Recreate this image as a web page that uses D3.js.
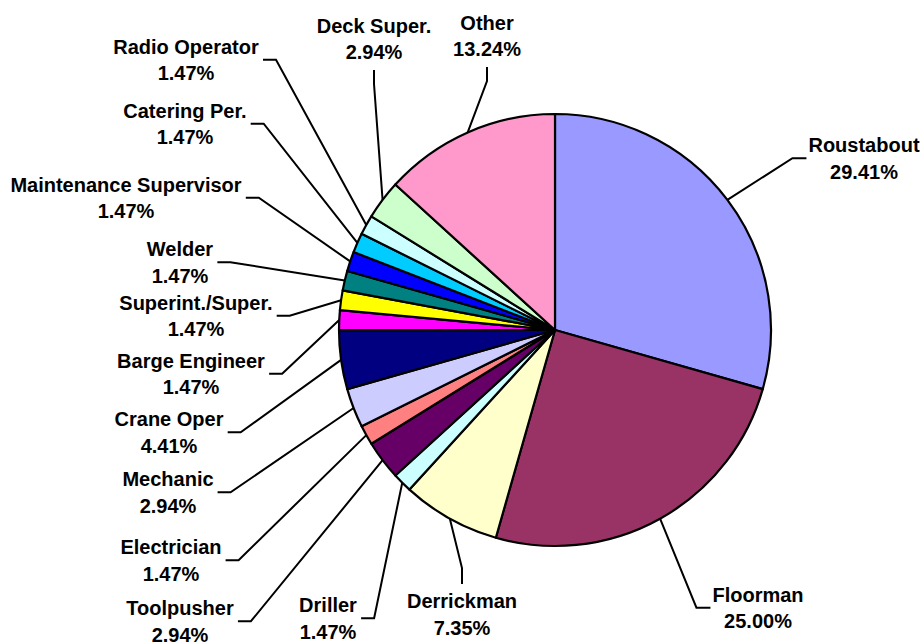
<!DOCTYPE html>
<html lang="en">
<head>
<meta charset="UTF-8">
<script src="https://cdn.jsdelivr.net/npm/d3@7.8.5/dist/d3.min.js"></script>
<title>Job categories pie</title>
<style>
  body { margin: 0; background: #fff; }
  text { font-family: "Liberation Sans", Arial, sans-serif; font-weight: bold; font-size: 20px; fill: #000; }
</style>
</head>
<body>
<svg width="921" height="644"></svg>
<script>
// slice data, clockwise from 12 o'clock
var categories = ["Roustabout", "Floorman", "Derrickman", "Driller", "Toolpusher", "Electrician",
  "Mechanic", "Crane Oper", "Barge Engineer", "Superint./Super.", "Welder",
  "Maintenance Supervisor", "Catering Per.", "Radio Operator", "Deck Super.", "Other"];
var shares = [29.41, 25.00, 7.35, 1.47, 2.94, 1.47, 2.94, 4.41, 1.47, 1.47, 1.47, 1.47, 1.47, 1.47, 2.94, 13.24];
var colors = ["#9999FF", "#993366", "#FFFFCC", "#CCFFFF", "#660066", "#FF8080", "#CCCCFF", "#000080",
  "#FF00FF", "#FFFF00", "#008080", "#0000FF", "#00CCFF", "#CCFFFF", "#CCFFCC", "#FF99CC"];

// label placement: [centre x, first line y (cap middle), side of the leader]
var labelPos = [
  [864, 145, "right"], [758, 594.5, "right"], [462, 601, "bottom"], [328, 605, "left"],
  [180, 608, "left"], [171, 547, "left"], [168, 479, "left"], [169, 419, "left"],
  [191, 360.5, "left"], [196, 302.5, "left"], [180, 249, "left"], [126, 184.5, "left"],
  [185, 110.5, "left"], [186, 46.5, "left"], [374, 25.5, "top"], [487, 22.5, "top"]
];

var svg = d3.select("svg");
var cx = 555, cy = 330, r = 216, lineGap = 26.5;

var data = categories.map(function(c, i) { return {name: c, value: shares[i], color: colors[i], pos: labelPos[i]}; });

var pie = d3.pie().sort(null).value(function(d) { return d.value; });
var arc = d3.arc().innerRadius(0).outerRadius(r);
var arcs = pie(data);

var g = svg.append("g").attr("transform", "translate(" + cx + "," + cy + ")");
g.selectAll("path.slice")
  .data(arcs)
  .enter().append("path")
  .attr("class", "slice")
  .attr("d", arc)
  .attr("fill", function(d) { return d.data.color; })
  .attr("stroke", "#000")
  .attr("stroke-width", 2.2)
  .attr("stroke-linejoin", "round");

// labels and leader lines
arcs.forEach(function(a) {
  var p = a.data.pos;
  var lx = p[0], ly = p[1], side = p[2];
  var t = svg.append("text").attr("text-anchor", "middle");
  t.append("tspan").attr("x", lx).attr("y", ly + 7).text(a.data.name);
  t.append("tspan").attr("x", lx).attr("y", ly + 7 + lineGap).text(a.data.value.toFixed(2) + "%");
  var bb = t.node().getBBox();

  var mid = (a.startAngle + a.endAngle) / 2;
  var sx = cx + r * Math.sin(mid), sy = cy - r * Math.cos(mid);
  var pts;
  var my = ly + lineGap / 2;
  if (side === "left") {
    var x0 = bb.x + bb.width + 4;
    pts = [[x0, my], [x0 + 13, my], [sx, sy]];
  } else if (side === "right") {
    var x1 = bb.x - 2;
    pts = [[x1, my], [x1 - 14, my], [sx, sy]];
  } else if (side === "top") {
    var yb = ly + lineGap + 7 + 4;
    pts = [[lx, yb + 7], [lx, yb + 21], [sx, sy]];
  } else {
    var yt = ly - 7;
    pts = [[lx, yt - 10], [lx, yt - 26], [sx, sy]];
  }
  svg.append("path")
    .attr("d", d3.line()(pts))
    .attr("fill", "none")
    .attr("stroke", "#000")
    .attr("stroke-width", 2);
});
</script>
</body>
</html>
